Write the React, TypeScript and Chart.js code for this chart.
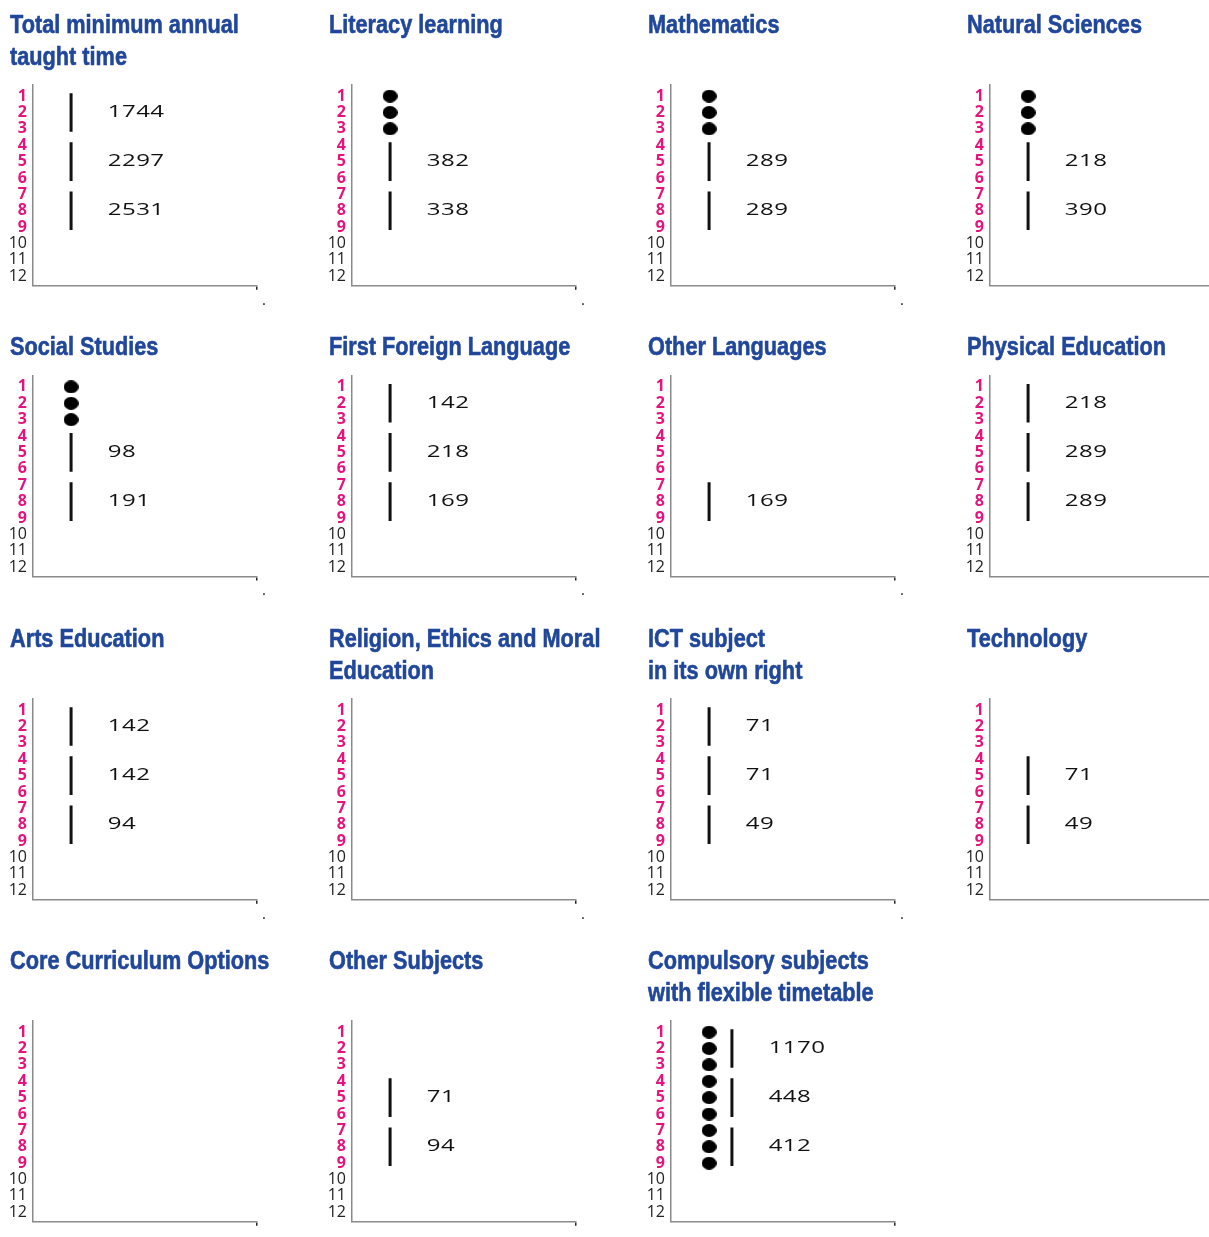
import React, { useEffect, useRef } from 'react';
import { Chart, registerables } from 'chart.js';

Chart.register(...registerables);

// ---------- data ----------
const GRADES = [1, 2, 3, 4, 5, 6, 7, 8, 9, 10, 11, 12];
const LAST_COMPULSORY_GRADE = 9;
// grade ranges of the three stages (first grade, last grade)
const STAGE_FIRST = [1, 4, 7];
const STAGE_LAST = [3, 6, 9];

const TITLES: string[][] = [
  ['Total minimum annual', 'taught time'],
  ['Literacy learning'],
  ['Mathematics'],
  ['Natural Sciences'],
  ['Social Studies'],
  ['First Foreign Language'],
  ['Other Languages'],
  ['Physical Education'],
  ['Arts Education'],
  ['Religion, Ethics and Moral', 'Education'],
  ['ICT subject', 'in its own right'],
  ['Technology'],
  ['Core Curriculum Options'],
  ['Other Subjects'],
  ['Compulsory subjects', 'with flexible timetable'],
];

// hours per stage (null = no bar)
const totalTime = [1744, 2297, 2531];
const literacy = [null, 382, 338];
const mathematics = [null, 289, 289];
const naturalSciences = [null, 218, 390];
const socialStudies = [null, 98, 191];
const firstForeignLanguage = [142, 218, 169];
const otherLanguages = [null, null, 169];
const physicalEducation = [218, 289, 289];
const artsEducation = [142, 142, 94];
const religionEthics = [null, null, null];
const ictSubject = [71, 71, 49];
const technology = [null, 71, 49];
const coreCurriculumOptions = [null, null, null];
const otherSubjects = [null, 71, 94];
const flexibleTimetable = [1170, 448, 412];

// grades marked with a dot (flexible time)
const literacyDots = [1, 2, 3];
const mathematicsDots = [1, 2, 3];
const naturalSciencesDots = [1, 2, 3];
const socialStudiesDots = [1, 2, 3];
const flexibleDots = [1, 2, 3, 4, 5, 6, 7, 8, 9];

const SERIES: (number | null)[][] = [
  totalTime, literacy, mathematics, naturalSciences,
  socialStudies, firstForeignLanguage, otherLanguages, physicalEducation,
  artsEducation, religionEthics, ictSubject, technology,
  coreCurriculumOptions, otherSubjects, flexibleTimetable,
];
const DOTS: number[][] = [
  [], literacyDots, mathematicsDots, naturalSciencesDots,
  socialStudiesDots, [], [], [],
  [], [], [], [],
  [], [], flexibleDots,
];

// ---------- style ----------
const BLUE = '#21479b';
const PINK = '#e6137e';
const AXIS_GREY = '#8a8a8a';
const TITLE_FONT = "'Liberation Sans', Arial, sans-serif";
const TITLE_SCALE_X = 0.835;
const COLS = 4;
const COL_W = 319;
const LEFT0 = 9;
const ROW_TOPS = [0, 322, 614, 936];
const TITLE_LINE_H = 31.2;
const TITLE_PAD_TOP = 9.4;
const TITLE_PAD_BOTTOM = 13;
const PLOT_H = 201;
const X_AXIS_H = 37;
const Y_AXIS_W = 24;
const RIGHT_PAD = 71;
const X_MAX = 10;
const COLUMN_X = 1.7;
const SHIFTED_COLUMN_X = 2.72;
const LABEL_DX = 1.64;
const BAR_EXT = 0.18;

Chart.defaults.font.family = "'Open Sans', sans-serif";

function makeDotImage(): HTMLCanvasElement {
  const c = document.createElement('canvas');
  c.width = 15;
  c.height = 13;
  const g = c.getContext('2d')!;
  g.fillStyle = '#000';
  g.beginPath();
  g.ellipse(7.5, 6.5, 7.5, 6.5, 0, 0, Math.PI * 2);
  g.fill();
  return c;
}

const valueLabelPlugin = {
  id: 'valueLabels',
  afterDatasetsDraw(chart: any, _args: any, opts: any) {
    const { ctx } = chart;
    const xs = chart.scales.x;
    const ys = chart.scales.y;
    ctx.save();
    ctx.font = "16px 'Open Sans', sans-serif";
    ctx.fillStyle = '#111';
    ctx.textBaseline = 'middle';
    ctx.textAlign = 'left';
    (ctx as any).letterSpacing = '0.3px';
    for (const item of opts.items || []) {
      const px = xs.getPixelForValue(item.x);
      const py = ys.getPixelForValue(item.y);
      ctx.save();
      ctx.translate(px, py);
      ctx.scale(1.5, 1);
      ctx.fillText(item.text, 0, 0);
      ctx.restore();
    }
    ctx.restore();
  },
};

function Panel({ index, lines }: { index: number; lines: number }) {
  const ref = useRef<HTMLCanvasElement>(null);
  const row = Math.floor(index / COLS);
  const col = index % COLS;
  const titleBlock = TITLE_PAD_TOP + lines * TITLE_LINE_H + TITLE_PAD_BOTTOM;
  const H = Math.round(titleBlock + PLOT_H + X_AXIS_H);
  const xh = H - titleBlock - PLOT_H;

  useEffect(() => {
    if (!ref.current) return;
    const values = SERIES[index];
    const dots = DOTS[index];
    const overlap = dots.some((d) =>
      values.some((v, s) => v !== null && d >= STAGE_FIRST[s] && d <= STAGE_LAST[s])
    );
    const barX = overlap ? SHIFTED_COLUMN_X : COLUMN_X;

    const datasets: any[] = [];
    const items: any[] = [];
    values.forEach((v, s) => {
      if (v === null) return;
      datasets.push({
        data: [
          { x: barX, y: STAGE_FIRST[s] - BAR_EXT },
          { x: barX, y: STAGE_LAST[s] + BAR_EXT },
        ],
        showLine: true,
        borderColor: '#111',
        borderWidth: 3,
        borderCapStyle: 'butt',
        pointRadius: 0,
      });
      items.push({ x: barX + LABEL_DX, y: (STAGE_FIRST[s] + STAGE_LAST[s]) / 2, text: String(v) });
    });
    if (dots.length) {
      datasets.push({
        data: dots.map((g) => ({ x: COLUMN_X, y: g })),
        pointStyle: makeDotImage(),
        pointRadius: 7,
        showLine: false,
      });
    }

    const chart = new Chart(ref.current, {
      type: 'scatter',
      data: { datasets },
      options: {
        animation: false,
        responsive: false,
        maintainAspectRatio: false,
        events: [],
        layout: { padding: { left: 0, right: RIGHT_PAD, top: titleBlock, bottom: 0 } },
        plugins: {
          legend: { display: false },
          tooltip: { enabled: false },
          title: { display: false },
          valueLabels: { items },
        } as any,
        scales: {
          x: {
            type: 'linear',
            min: 0,
            max: X_MAX,
            afterBuildTicks: (s: any) => {
              s.ticks = [{ value: X_MAX }];
            },
            afterFit: (s: any) => {
              s.height = xh;
            },
            ticks: {
              autoSkip: false,
              maxRotation: 0,
              callback: () => '.',
              color: '#222',
              font: { size: 15, lineHeight: 1 },
              padding: 3,
              labelOffset: 7,
            },
            grid: {
              display: true,
              drawOnChartArea: false,
              drawTicks: true,
              tickLength: 4,
              color: '#222',
              lineWidth: 1.5,
            },
            border: { display: true, color: AXIS_GREY, width: 1.5 },
          },
          y: {
            type: 'linear',
            reverse: true,
            min: 0.31,
            max: 12.58,
            afterBuildTicks: (s: any) => {
              s.ticks = GRADES.map((g) => ({ value: g }));
            },
            afterFit: (s: any) => {
              s.width = Y_AXIS_W;
            },
            ticks: {
              autoSkip: false,
              padding: 6,
              callback: (v: any) => String(v),
              color: (c: any) => (c.tick && c.tick.value <= LAST_COMPULSORY_GRADE ? PINK : '#222'),
              font: (c: any) => ({
                family: "'Open Sans', sans-serif",
                size: 16,
                lineHeight: 1,
                weight: c.tick && c.tick.value <= LAST_COMPULSORY_GRADE ? 'bold' : 'normal',
              }),
            },
            grid: { display: false, drawTicks: false },
            border: { display: true, color: AXIS_GREY, width: 1.5 },
          },
        },
      } as any,
      plugins: [valueLabelPlugin],
    });
    return () => chart.destroy();
  }, []);

  return (
    <div
      style={{
        position: 'absolute',
        left: LEFT0 + col * COL_W,
        top: ROW_TOPS[row],
        width: COL_W,
        height: H,
      }}
    >
      <canvas
        ref={ref}
        width={COL_W}
        height={H}
        style={{ position: 'absolute', left: 0, top: 0, width: COL_W, height: H, display: 'block' }}
      />
      <div
        style={{
          position: 'absolute',
          left: 1,
          top: TITLE_PAD_TOP,
          font: `bold 26px ${TITLE_FONT}`,
          lineHeight: `${TITLE_LINE_H}px`,
          color: BLUE,
          whiteSpace: 'nowrap',
          transform: `scaleX(${TITLE_SCALE_X})`,
          transformOrigin: '0 0',
          WebkitTextStroke: `0.6px ${BLUE}`,
        }}
      >
        {TITLES[index].map((t, i) => (
          <div key={i}>{t}</div>
        ))}
      </div>
    </div>
  );
}

export default function App() {
  const rowLines: number[] = [];
  TITLES.forEach((t, i) => {
    const r = Math.floor(i / COLS);
    rowLines[r] = Math.max(rowLines[r] || 0, t.length);
  });
  return (
    <div
      style={{
        position: 'fixed',
        left: 0,
        top: 0,
        width: 1209,
        height: 1237,
        overflow: 'hidden',
        background: '#fff',
      }}
    >
      {TITLES.map((_, i) => (
        <Panel key={i} index={i} lines={rowLines[Math.floor(i / COLS)]} />
      ))}
    </div>
  );
}
